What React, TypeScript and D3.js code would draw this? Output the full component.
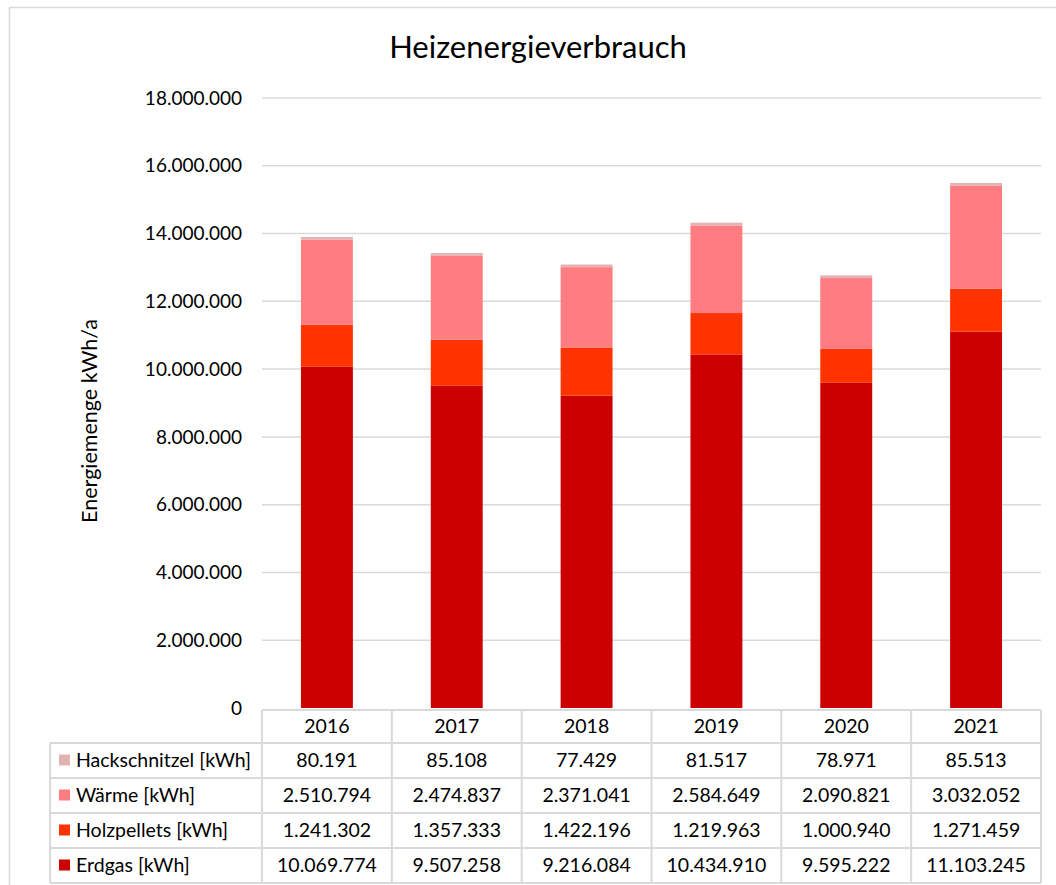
import * as d3 from 'd3';
import React from 'react';

// chart data
const years = ['2016', '2017', '2018', '2019', '2020', '2021'];
const erdgas = [10069774, 9507258, 9216084, 10434910, 9595222, 11103245];
const holzpellets = [1241302, 1357333, 1422196, 1219963, 1000940, 1271459];
const waerme = [2510794, 2474837, 2371041, 2584649, 2090821, 3032052];
const hackschnitzel = [80191, 85108, 77429, 81517, 78971, 85513];
const yTicks = [0, 2000000, 4000000, 6000000, 8000000, 10000000, 12000000, 14000000, 16000000, 18000000];

const seriesNames = ['Erdgas [kWh]', 'Holzpellets [kWh]', 'Wärme [kWh]', 'Hackschnitzel [kWh]'];
const seriesValues = [erdgas, holzpellets, waerme, hackschnitzel];
const seriesColors = ['#CC0000', '#FF3300', '#FF7C80', '#E2B3B3'];

const de = d3.formatLocale({ decimal: ',', thousands: '.', grouping: [3], currency: ['', '€'] });
const fmt = de.format(',d');

const FONT = 'Lato, "Open Sans", sans-serif';

function App() {
  const W = 1056;
  const H = 885;
  const plotLeft = 262;
  const plotRight = 1041;
  const yTop = 98;
  const yBottom = 708;

  const x = d3.scaleBand().domain(years).range([plotLeft, plotRight]).paddingInner(0).paddingOuter(0);
  const y = d3.scaleLinear().domain([0, 18000000]).range([yBottom, yTop]);
  const barW = x.bandwidth() * 0.4;

  const rows = years.map((yr, i) => {
    const r: any = { year: yr };
    seriesNames.forEach((n, k) => (r[n] = seriesValues[k][i]));
    return r;
  });
  const stacked = d3.stack().keys(seriesNames)(rows);

  // table layout
  const tableLeft = 50;
  const headTop = 710;
  const headH = 33;
  const rowH = 35;
  const tableRows = [...seriesNames.keys()].reverse();
  const gridColor = '#D9D9D9';
  const fs = 19.5;

  return (
    <svg width={W} height={H} style={{ position: 'absolute', left: 0, top: 0, fontFamily: FONT }}>
      <rect x={0} y={0} width={W} height={H} fill="#fff" />
      <rect x={9.5} y={7.5} width={1060} height={900} fill="none" stroke={gridColor} strokeWidth={1.5} />

      <text x={538} y={58} textAnchor="middle" fontSize={31} fill="#000">Heizenergieverbrauch</text>

      {yTicks.map((t) => (
        <g key={t}>
          {t > 0 && (
            <line x1={plotLeft} x2={plotRight} y1={y(t)} y2={y(t)} stroke={gridColor} strokeWidth={1.5} />
          )}
          <text x={242} y={y(t)} dy="0.35em" textAnchor="end" fontSize={19} fill="#000">{fmt(t)}</text>
        </g>
      ))}

      <text transform={`translate(97,421) rotate(-90)`} textAnchor="middle" fontSize={21.5} fill="#000">Energiemenge kWh/a</text>

      {stacked.map((s, k) => (
        <g key={s.key} fill={seriesColors[k]}>
          {s.map((d, i) => (
            <rect
              key={i}
              x={(x(years[i]) as number) + (x.bandwidth() - barW) / 2}
              y={y(d[1])}
              width={barW}
              height={y(d[0]) - y(d[1])}
            />
          ))}
        </g>
      ))}

      {/* data table */}
      <g stroke={gridColor} strokeWidth={2}>
        <line x1={plotLeft} x2={plotRight} y1={headTop} y2={headTop} />
        {[0, 1, 2, 3, 4].map((r) => (
          <line key={r} x1={tableLeft} x2={plotRight} y1={headTop + headH + r * rowH} y2={headTop + headH + r * rowH} />
        ))}
        <line x1={tableLeft} x2={tableLeft} y1={headTop + headH} y2={headTop + headH + 4 * rowH} />
        {years.map((yr) => (
          <line key={yr} x1={x(yr)} x2={x(yr)} y1={headTop} y2={headTop + headH + 4 * rowH} />
        ))}
        <line x1={plotRight} x2={plotRight} y1={headTop} y2={headTop + headH + 4 * rowH} />
      </g>
      {years.map((yr) => (
        <text key={yr} x={(x(yr) as number) + x.bandwidth() / 2} y={headTop + headH / 2} dy="0.35em" textAnchor="middle" fontSize={fs} fill="#000">{yr}</text>
      ))}
      {tableRows.map((k, r) => {
        const cy = headTop + headH + r * rowH + rowH / 2;
        return (
          <g key={k}>
            <rect x={59} y={cy - 6} width={11} height={11} fill={seriesColors[k]} />
            <text x={76} y={cy} dy="0.35em" fontSize={fs} fill="#000">{seriesNames[k]}</text>
            {years.map((yr, i) => (
              <text key={yr} x={(x(yr) as number) + x.bandwidth() / 2} y={cy} dy="0.35em" textAnchor="middle" fontSize={fs} fill="#000">
                {fmt(seriesValues[k][i])}
              </text>
            ))}
          </g>
        );
      })}
    </svg>
  );
}

export default App;
